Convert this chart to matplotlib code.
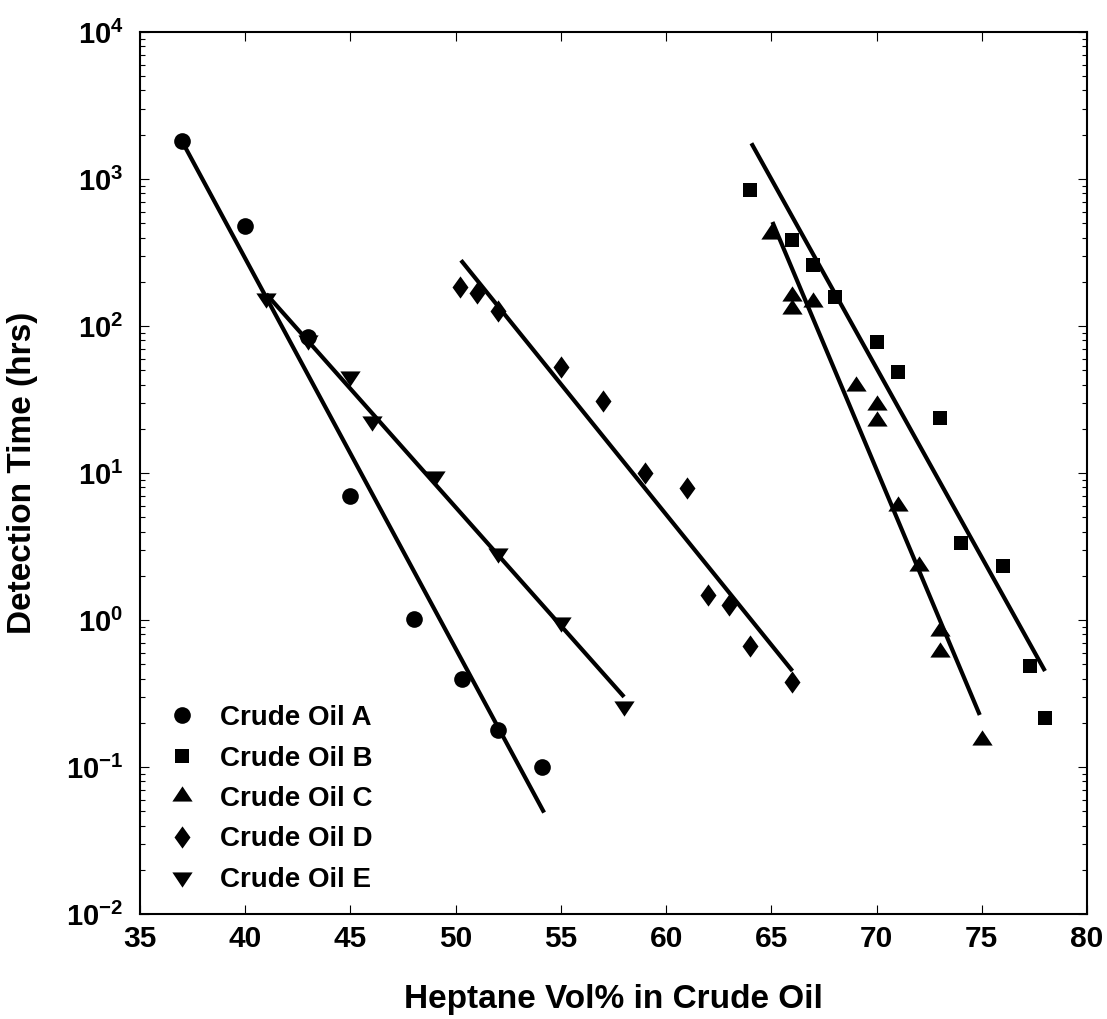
import numpy as np
import matplotlib.pyplot as plt
from matplotlib.ticker import FixedLocator, LogLocator, FuncFormatter, NullFormatter

plt.rcParams['font.family'] = ['Liberation Sans', 'DejaVu Sans']
plt.rcParams['font.weight'] = 'bold'
plt.rcParams['mathtext.fontset'] = 'custom'
plt.rcParams['mathtext.rm'] = 'Liberation Sans:bold'
plt.rcParams['mathtext.bf'] = 'Liberation Sans:bold'
plt.rcParams['mathtext.it'] = 'Liberation Sans:bold'

# measured detection times (hrs) vs heptane vol%
oil_a_x = [37, 40, 43, 45, 48, 50.3, 52, 54.1]
oil_a_y = [1800, 480, 84, 7.0, 1.02, 0.40, 0.18, 0.10]

oil_b_x = [64, 66, 67, 68, 70, 71, 73, 74, 76, 77.3, 78]
oil_b_y = [840, 385, 260, 157, 78, 49, 23.5, 3.35, 2.33, 0.49, 0.215]

oil_c_x = [65, 66, 66, 67, 69, 70, 70, 71, 72, 73, 73, 75]
oil_c_y = [420, 160, 130, 146, 39, 29, 22.6, 6.0, 2.33, 0.84, 0.605, 0.153]

oil_d_x = [50.2, 51, 52, 55, 57, 59, 61, 62, 63, 64, 66]
oil_d_y = [184, 168, 126, 53, 31, 10, 7.9, 1.48, 1.26, 0.665, 0.38]

oil_e_x = [41, 43, 45, 46, 49, 52, 55, 58]
oil_e_y = [155, 80, 46, 22.5, 9.6, 2.85, 0.97, 0.26]

# exponential fit lines, end points
fit_a_x, fit_a_y = [37, 54.2], [1800, 0.049]
fit_b_x, fit_b_y = [64.05, 78], [1750, 0.45]
fit_c_x, fit_c_y = [65.05, 74.9], [510, 0.226]
fit_d_x, fit_d_y = [50.25, 66], [280, 0.45]
fit_e_x, fit_e_y = [41, 58], [165, 0.30]

labels = ['Crude Oil A', 'Crude Oil B', 'Crude Oil C', 'Crude Oil D', 'Crude Oil E']
x_ticks = [35, 40, 45, 50, 55, 60, 65, 70, 75, 80]

# marker shapes
tri_up = [(-1, -0.5), (1, -0.5), (0, 1)]
tri_down = [(-1, 0.5), (1, 0.5), (0, -1)]
diamond = [(0, 1), (0.72, 0), (0, -1), (-0.72, 0)]

fig = plt.figure(figsize=(11.07, 10.19), dpi=100)
ax = fig.add_axes([0.1265, 0.103, 0.8555, 0.8656])

series = [
    (oil_a_x, oil_a_y, 'o', 12),
    (oil_b_x, oil_b_y, 's', 9.6),
    (oil_c_x, oil_c_y, tri_up, 14.6),
    (oil_d_x, oil_d_y, diamond, 16),
    (oil_e_x, oil_e_y, tri_down, 14.6),
]
for (xs, ys, m, ms), lab in zip(series, labels):
    ax.plot(xs, ys, linestyle='none', marker=m, markersize=ms, color='black',
            markeredgewidth=0, label=lab)

for fx, fy in [(fit_a_x, fit_a_y), (fit_b_x, fit_b_y), (fit_c_x, fit_c_y),
               (fit_d_x, fit_d_y), (fit_e_x, fit_e_y)]:
    ax.plot(fx, fy, color='black', lw=3, solid_capstyle='butt')

ax.set_yscale('log')
ax.set_xlim(35, 80)
ax.set_ylim(1e-2, 1e4)

ax.xaxis.set_major_locator(FixedLocator(x_ticks))
ax.yaxis.set_major_locator(LogLocator(base=10, numticks=10))
ax.yaxis.set_minor_locator(LogLocator(base=10, subs=np.arange(2, 10), numticks=20))
ax.yaxis.set_minor_formatter(NullFormatter())
ax.yaxis.set_major_formatter(FuncFormatter(lambda v, pos: r'$\mathbf{10^{%d}}$' % round(np.log10(v))))

ax.tick_params(axis='both', which='major', direction='in', length=6.5, width=0.8,
               top=True, right=True)
ax.tick_params(axis='both', which='minor', direction='in', length=3.6, width=0.8,
               top=True, right=True)
ax.tick_params(axis='x', labelsize=21.5, pad=8)
ax.tick_params(axis='y', labelsize=21, pad=12)
for sp in ax.spines.values():
    sp.set_linewidth(1.5)

ax.set_xlabel('Heptane Vol% in Crude Oil', fontsize=24, fontweight='bold', labelpad=22)
ax.set_ylabel('Detection Time (hrs)', fontsize=24, fontweight='bold', labelpad=20)

ax.legend(loc='lower left', bbox_to_anchor=(0.0296, 0.024), frameon=False,
          fontsize=20, borderpad=0, borderaxespad=0, handlelength=1.0,
          handletextpad=0.87, labelspacing=0.52, numpoints=1)

fig.savefig('out.png', dpi=100)
